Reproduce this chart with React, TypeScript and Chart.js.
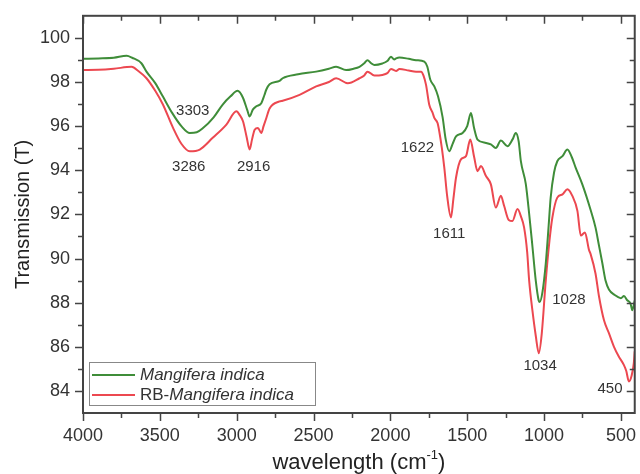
import React, { useEffect, useRef } from 'react';
import { Chart, registerables } from 'chart.js';

Chart.register(...registerables);

// Mangifera indica (green)
const greenWave = [4000, 3900, 3800, 3716, 3680, 3620, 3587, 3530, 3480, 3420, 3360, 3305, 3260, 3221, 3150, 3091, 3040, 2994, 2960, 2930, 2916, 2895, 2872, 2840, 2820, 2807, 2786, 2721, 2701, 2600, 2483, 2400, 2353, 2288, 2240, 2201, 2170, 2149, 2125, 2104, 2052, 2020, 1996, 1975, 1963, 1941, 1880, 1833, 1779, 1760, 1740, 1714, 1690, 1660, 1640, 1617, 1595, 1573, 1530, 1500, 1476, 1455, 1433, 1378, 1346, 1314, 1281, 1238, 1205, 1184, 1165, 1151, 1119, 1097, 1075, 1054, 1035, 1028, 1010, 989, 970, 957, 935, 914, 880, 848, 820, 794, 751, 697, 665, 643, 621, 600, 578, 540, 500, 480, 459, 437, 426, 410];
const greenT = [99.05, 99.07, 99.1, 99.19, 99.1, 98.85, 98.47, 97.95, 97.34, 96.6, 96.0, 95.69, 95.72, 95.9, 96.4, 96.98, 97.35, 97.6, 97.3, 96.7, 96.44, 96.75, 96.9, 97.04, 97.4, 97.66, 97.9, 98.05, 98.17, 98.35, 98.47, 98.6, 98.69, 98.54, 98.6, 98.69, 98.85, 98.99, 98.85, 98.77, 98.84, 98.95, 99.14, 99.02, 99.07, 99.11, 99.05, 98.99, 98.92, 98.7, 98.1, 97.8, 97.35, 96.4, 95.4, 94.86, 95.2, 95.54, 95.69, 96.0, 96.59, 95.9, 95.39, 95.24, 95.17, 95.01, 95.35, 95.09, 95.4, 95.69, 95.3, 94.41, 93.38, 92.03, 90.5, 89.0, 88.1, 88.03, 88.5, 89.77, 91.5, 92.76, 93.9, 94.41, 94.64, 94.94, 94.6, 94.11, 93.36, 92.2, 91.4, 90.6, 89.8, 89.0, 88.6, 88.35, 88.2, 88.3, 88.11, 87.95, 87.66, 88.1];

// RB-Mangifera indica (red)
const redWave = [4000, 3900, 3800, 3684, 3640, 3587, 3530, 3480, 3414, 3360, 3305, 3240, 3156, 3067, 3002, 2980, 2959, 2935, 2916, 2900, 2883, 2862, 2840, 2825, 2807, 2786, 2721, 2701, 2591, 2483, 2400, 2353, 2277, 2201, 2170, 2149, 2104, 2052, 2020, 1996, 1963, 1941, 1880, 1833, 1800, 1785, 1768, 1747, 1725, 1714, 1693, 1682, 1665, 1649, 1630, 1606, 1590, 1573, 1541, 1508, 1480, 1455, 1433, 1411, 1378, 1346, 1314, 1281, 1260, 1230, 1206, 1173, 1150, 1130, 1110, 1097, 1075, 1054, 1034, 1015, 989, 965, 946, 914, 880, 848, 816, 783, 761, 734, 708, 697, 665, 643, 610, 578, 545, 513, 481, 465, 448, 430, 416, 410];
const redT = [98.54, 98.55, 98.6, 98.69, 98.5, 98.17, 97.6, 96.98, 95.92, 95.2, 94.86, 94.94, 95.47, 96.07, 96.67, 96.5, 96.22, 95.5, 94.94, 95.4, 95.84, 95.92, 95.69, 96.0, 96.37, 96.8, 97.12, 97.15, 97.42, 97.8, 98.0, 98.17, 97.94, 98.17, 98.3, 98.47, 98.29, 98.32, 98.4, 98.59, 98.5, 98.59, 98.52, 98.47, 98.47, 98.3, 97.87, 96.97, 96.6, 96.37, 96.14, 95.77, 95.0, 94.11, 92.8, 91.86, 92.7, 93.66, 94.49, 94.64, 95.39, 94.6, 93.96, 94.19, 93.74, 93.36, 92.31, 92.84, 92.39, 91.75, 91.7, 92.24, 91.9, 91.41, 90.3, 89.0, 87.6, 86.5, 85.71, 86.6, 89.0, 90.8, 91.86, 92.76, 92.91, 93.14, 92.84, 92.16, 91.04, 91.18, 90.4, 90.2, 89.31, 88.3, 87.2, 86.62, 86.0, 85.55, 85.18, 84.9, 84.43, 84.7, 85.26, 85.8];

const xTickValues = [4000, 3500, 3000, 2500, 2000, 1500, 1000, 500];
const xMinorValues = [3750, 3250, 2750, 2250, 1750, 1250, 750];
const yTickValues = [84, 86, 88, 90, 92, 94, 96, 98, 100];
const yMinorValues = [85, 87, 89, 91, 93, 95, 97, 99];

const peakLabels = ['3303', '3286', '2916', '1622', '1611', '1028', '1034', '450'];
const peakLabelWave = [3286, 3312, 2890, 1824, 1617, 838, 1026, 571];
const peakLabelT = [96.71, 94.14, 94.14, 95.0, 91.14, 88.11, 85.15, 84.1];

const seriesNames = ['Mangifera indica', 'RB-Mangifera indica'];
const GREEN = '#3f8d39';
const RED = '#ec4850';
const FONT = "'Liberation Sans', Arial, sans-serif";

const framePlugin = {
  id: 'frame',
  afterDraw(chart: any) {
    const ctx = chart.ctx;
    const { left, right, top, bottom } = chart.chartArea;
    const xs = chart.scales.x;
    const ys = chart.scales.y;
    ctx.save();
    ctx.strokeStyle = '#444';
    ctx.lineWidth = 2;
    ctx.strokeRect(left, top, right - left, bottom - top);
    ctx.lineWidth = 1.5;
    const drawX = (v: number, len: number) => {
      const px = Math.round(xs.getPixelForValue(v)) + 0.5;
      ctx.beginPath();
      ctx.moveTo(px, bottom);
      ctx.lineTo(px, bottom + len);
      ctx.moveTo(px, top);
      ctx.lineTo(px, top + len);
      ctx.stroke();
    };
    const drawY = (v: number, len: number) => {
      const py = Math.round(ys.getPixelForValue(v)) + 0.5;
      ctx.beginPath();
      ctx.moveTo(left, py);
      ctx.lineTo(left - len, py);
      ctx.moveTo(right, py);
      ctx.lineTo(right - len, py);
      ctx.stroke();
    };
    xTickValues.forEach((v) => drawX(v, 8));
    xMinorValues.forEach((v) => drawX(v, 5));
    yTickValues.forEach((v) => drawY(v, 8));
    yMinorValues.forEach((v) => drawY(v, 5));

    // peak labels
    ctx.fillStyle = '#333';
    ctx.font = `15px ${FONT}`;
    ctx.textAlign = 'center';
    ctx.textBaseline = 'middle';
    peakLabels.forEach((t, i) => {
      ctx.fillText(t, xs.getPixelForValue(peakLabelWave[i]), ys.getPixelForValue(peakLabelT[i]));
    });

    // legend
    const bx = left + 6;
    const by = bottom - 51;
    const bw = 226;
    const bh = 43;
    ctx.strokeStyle = '#888';
    ctx.lineWidth = 1;
    ctx.strokeRect(bx + 0.5, by + 0.5, bw, bh);
    const rows = [by + 13, by + 33];
    [GREEN, RED].forEach((c, i) => {
      ctx.strokeStyle = c;
      ctx.lineWidth = 2;
      ctx.beginPath();
      ctx.moveTo(bx + 3, rows[i]);
      ctx.lineTo(bx + 46, rows[i]);
      ctx.stroke();
    });
    ctx.fillStyle = '#333';
    ctx.textAlign = 'left';
    ctx.textBaseline = 'middle';
    ctx.font = `italic 17px ${FONT}`;
    ctx.fillText(seriesNames[0], bx + 51, rows[0]);
    ctx.font = `17px ${FONT}`;
    const pre = 'RB-';
    ctx.fillText(pre, bx + 51, rows[1]);
    const pw = ctx.measureText(pre).width;
    ctx.font = `italic 17px ${FONT}`;
    ctx.fillText(seriesNames[1].slice(3), bx + 51 + pw, rows[1]);

    // x title with superscript
    const main = 'wavelength (cm';
    const sup = '-1';
    const end = ')';
    ctx.font = `22px ${FONT}`;
    const w1 = ctx.measureText(main).width;
    const w3 = ctx.measureText(end).width;
    ctx.font = `13px ${FONT}`;
    const w2 = ctx.measureText(sup).width;
    const total = w1 + w2 + w3;
    const cx = (left + right) / 2;
    const cy = 463;
    let x0 = cx - total / 2;
    ctx.fillStyle = '#222';
    ctx.font = `22px ${FONT}`;
    ctx.fillText(main, x0, cy);
    ctx.font = `13px ${FONT}`;
    ctx.fillText(sup, x0 + w1, cy - 8);
    ctx.font = `22px ${FONT}`;
    ctx.fillText(end, x0 + w1 + w2, cy);
    ctx.restore();
  },
};

export default function App() {
  const ref = useRef<HTMLCanvasElement | null>(null);
  useEffect(() => {
    document.body.style.margin = '0';
    if (!ref.current) return;
    const chart = new Chart(ref.current, {
      type: 'line',
      data: {
        datasets: [
          {
            label: seriesNames[0],
            data: greenWave.map((w, i) => ({ x: w, y: greenT[i] })),
            borderColor: GREEN,
            borderWidth: 2,
            pointRadius: 0,
            cubicInterpolationMode: 'monotone',
          },
          {
            label: seriesNames[1],
            data: redWave.map((w, i) => ({ x: w, y: redT[i] })),
            borderColor: RED,
            borderWidth: 2,
            pointRadius: 0,
            cubicInterpolationMode: 'monotone',
          },
        ],
      },
      options: {
        animation: false,
        responsive: false,
        devicePixelRatio: 1,
        layout: { padding: { left: 0, right: 3, top: 14, bottom: 0 } },
        plugins: { legend: { display: false }, tooltip: { enabled: false } },
        scales: {
          x: {
            type: 'linear',
            reverse: true,
            min: 410,
            max: 4000,
            afterBuildTicks: (s: any) => {
              s.ticks = xTickValues.map((v) => ({ value: v }));
            },
            afterFit: (s: any) => {
              s.height = 61;
            },
            grid: { display: false, drawTicks: true, tickLength: 8 },
            border: { display: false },
            ticks: {
              autoSkip: false,
              maxRotation: 0,
              padding: 4,
              color: '#333',
              font: { family: FONT, size: 18 },
              callback: (v: any) => String(v),
            },
          },
          y: {
            type: 'linear',
            min: 83,
            max: 101,
            afterBuildTicks: (s: any) => {
              s.ticks = yTickValues.map((v) => ({ value: v }));
            },
            afterFit: (s: any) => {
              s.width = 83;
            },
            grid: { display: false, drawTicks: true, tickLength: 8 },
            border: { display: false },
            ticks: {
              autoSkip: false,
              padding: 5,
              color: '#333',
              font: { family: FONT, size: 18 },
              callback: (v: any) => String(v),
            },
            title: {
              display: true,
              text: 'Transmission (T)',
              color: '#222',
              font: { family: FONT, size: 20, lineHeight: 1 },
              padding: { top: 13, bottom: 0 },
            },
          },
        },
      },
      plugins: [framePlugin],
    } as any);
    return () => chart.destroy();
  }, []);
  return (
    <div style={{ width: 640, height: 474 }}>
      <canvas ref={ref} width={640} height={474} />
    </div>
  );
}
